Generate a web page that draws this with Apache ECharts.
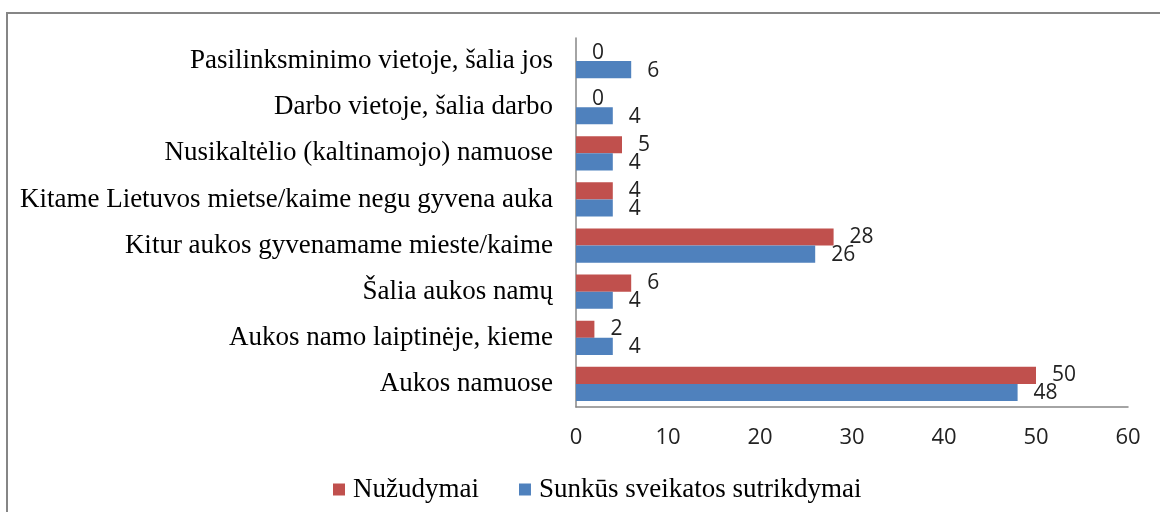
<!DOCTYPE html>
<html><head><meta charset="utf-8">
<script src="https://cdn.jsdelivr.net/npm/echarts@6/dist/echarts.min.js"></script>
<style>html,body{margin:0;padding:0;background:#fff}#c{width:1160px;height:512px}</style>
</head><body><div id="c"></div>
<script>
var categories = [
  "Pasilinksminimo vietoje, šalia jos",
  "Darbo vietoje, šalia darbo",
  "Nusikaltėlio (kaltinamojo) namuose",
  "Kitame Lietuvos mietse/kaime negu gyvena auka",
  "Kitur aukos gyvenamame mieste/kaime",
  "Šalia aukos namų",
  "Aukos namo laiptinėje, kieme",
  "Aukos namuose"
];
var seriesNames = ["Nužudymai", "Sunkūs sveikatos sutrikdymai"];
var nuzudymai = [0, 0, 5, 4, 28, 6, 2, 50];
var sveikatos = [6, 4, 4, 4, 26, 4, 4, 48];
var xTicks = {min: 0, max: 60, interval: 10};

var chart = echarts.init(document.getElementById('c'), null, {renderer: 'canvas'});
var serif = '"Liberation Serif", "Times New Roman", serif';
var sans = '"Open Sans", "DejaVu Sans", sans-serif';
var lbl = {show: true, position: 'right', distance: 16, color: '#222', fontFamily: sans, fontSize: 21};
chart.setOption({
  animation: false,
  graphic: [{type: 'rect', shape: {x: 7, y: 13, width: 1200, height: 600}, style: {fill: 'none', stroke: '#868686', lineWidth: 2}, silent: true}],
  grid: {left: 576, right: 32, top: 38, bottom: 105, containLabel: false},
  legend: {
    data: seriesNames, left: 333, top: 476, padding: 0, itemWidth: 12, itemHeight: 12, itemGap: 40, icon: 'rect',
    textStyle: {fontFamily: serif, fontSize: 27, color: '#000', padding: [0, 0, 0, 3]}
  },
  xAxis: {
    type: 'value', min: xTicks.min, max: xTicks.max, interval: xTicks.interval,
    axisLine: {show: true, lineStyle: {color: '#868686', width: 1.5}},
    axisTick: {show: false}, splitLine: {show: false},
    axisLabel: {margin: 20, color: '#222', fontFamily: sans, fontSize: 22}
  },
  yAxis: {
    type: 'category', data: categories, inverse: true,
    axisLine: {show: true, lineStyle: {color: '#868686', width: 1.5}},
    axisTick: {show: false},
    axisLabel: {margin: 23, color: '#000', fontFamily: serif, fontSize: 27}
  },
  series: [
    {name: seriesNames[0], type: 'bar', data: nuzudymai, barGap: '0%', barCategoryGap: '26%',
     itemStyle: {color: '#C0504D'}, label: Object.assign({}, lbl, {offset: [0, 0]})},
    {name: seriesNames[1], type: 'bar', data: sveikatos, barGap: '0%', barCategoryGap: '26%',
     itemStyle: {color: '#4F81BD'}, label: Object.assign({}, lbl, {offset: [0, 1]})}
  ]
});
</script></body></html>
